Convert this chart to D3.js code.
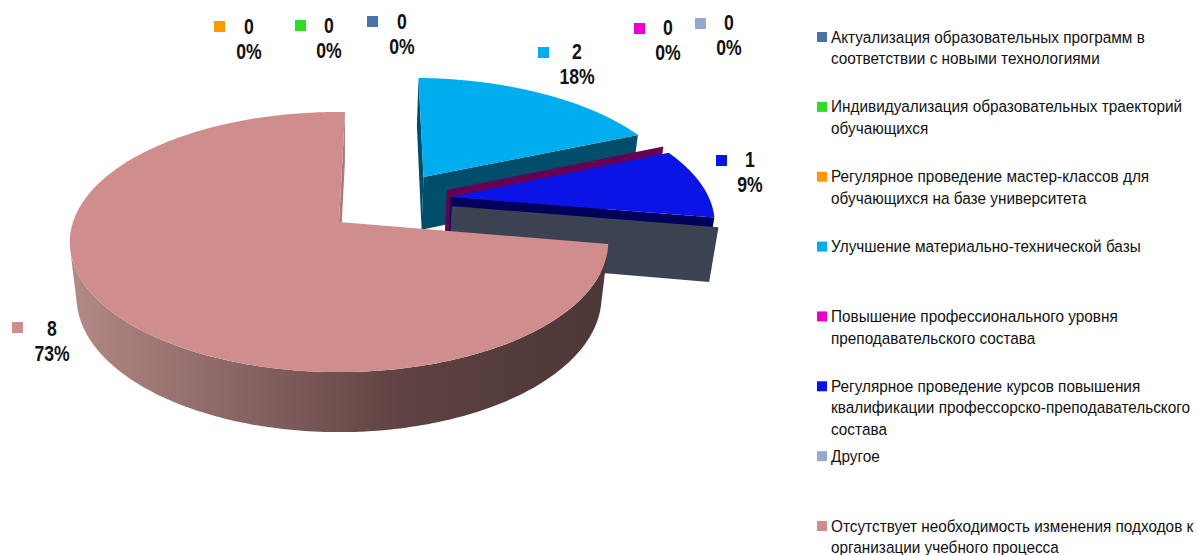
<!DOCTYPE html>
<html><head><meta charset="utf-8">
<script src="https://cdn.jsdelivr.net/npm/d3@7/dist/d3.min.js"></script>
<style>
html,body{margin:0;padding:0;background:#fff;overflow:hidden}
svg{display:block}
.leg{font-family:"Liberation Sans",sans-serif;font-size:16.5px;fill:#111}
.lab{font-family:"Liberation Sans",sans-serif;font-size:22px;font-weight:bold;fill:#111;text-anchor:middle;dominant-baseline:central}
</style></head><body>
<script>
// ---- data ----
const categories = [
 "Актуализация образовательных программ в соответствии с новыми технологиями",
 "Индивидуализация образовательных траекторий обучающихся",
 "Регулярное проведение мастер-классов для обучающихся на базе университета",
 "Улучшение материально-технической базы",
 "Повышение профессионального уровня преподавательского состава",
 "Регулярное проведение курсов повышения квалификации профессорско-преподавательского состава",
 "Другое",
 "Отсутствует необходимость изменения подходов к организации учебного процесса"
];
const values = [0,0,0,2,0,1,0,8];
const legendLines = [
 ["Актуализация образовательных программ в","соответствии с новыми технологиями"],
 ["Индивидуализация образовательных траекторий","обучающихся"],
 ["Регулярное проведение мастер-классов для","обучающихся на базе университета"],
 ["Улучшение материально-технической базы"],
 ["Повышение профессионального уровня","преподавательского состава"],
 ["Регулярное проведение курсов повышения","квалификации профессорско-преподавательского","состава"],
 ["Другое"],
 ["Отсутствует необходимость изменения подходов к","организации учебного процесса"]
];
// ---- styles ----
const colors = ["#4a72a8","#2fdc1e","#ff9900","#00aeef","#ee00cc","#0a14e6","#94a8d0","#cf8e8d"];
const faceColors = [null,null,null,"#004e6b","#660055","#00005c","#3b4252","#ab7a78"];
// ---- layout ----
const sliceShift = [null,null,null,[.336,.375],[.422,.262],[.433,.203],[.432,.128],[0,0]];
const labelSwatch = [[367,16],[295,20],[214,21],[538,47],[634,23],[716,155],[695,18],[12,322]];
const labelText = [[402,21],[329,25],[249,26],[577,51],[668,27],[750,159],[729,22],[52,328]];

const W=1197,H=555;
const svg=d3.select("body").append("svg").attr("width",W).attr("height",H);

// perspective projection of the pie's plane
const P={x0:339,y0:222,A:266,B:127,k:.154,m:.025,D:56};
function proj(X,Y,z){
  const w=1+P.k*Y+P.m*(z?1:0);
  return [P.x0+P.A*X/w, P.y0-(P.B*Y-(z?P.D:0))/w];
}
const startDeg=1.5;
const pie=d3.pie().sort(null).value(d=>d).startAngle(startDeg*Math.PI/180).endAngle((startDeg+360)*Math.PI/180);
const arcs=pie(values);
const line=d3.line();

const defs=svg.append("defs");
const grad=defs.append("linearGradient").attr("id","rimPink").attr("gradientUnits","userSpaceOnUse")
  .attr("x1",75).attr("x2",600).attr("y1",0).attr("y2",0);
[[0,"#b38886"],[.62,"#5f4242"],[1,"#4d3737"]].forEach(s=>grad.append("stop").attr("offset",s[0]).attr("stop-color",s[1]));

const gPie=svg.append("g");
arcs.forEach((a,i)=>{
  const sh=sliceShift[i]; if(!sh) return;
  const pt=(t,r,z)=>proj(sh[0]+r*Math.sin(t),sh[1]+r*Math.cos(t),z);
  const face=t=>[pt(t,0,0),pt(t,1,0),pt(t,1,1),pt(t,0,1)];
  const span=a.endAngle-a.startAngle;
  // radial faces with back-face culling
  const f2=face(a.endAngle);
  const f1=face(a.startAngle).reverse();
  [f1,f2].forEach(f=>{
    if(d3.polygonArea(f)<0) gPie.append("path").attr("d",line(f)+"Z").attr("fill",faceColors[i]);
  });
  if(span<=0) return;
  const ts=d3.range(0,241).map(j=>a.startAngle+span*j/240);
  // outer wall: only the part that faces the viewer
  const vis=[];
  for(let j=0;j<ts.length-1;j++){
    const q=[pt(ts[j],1,0),pt(ts[j+1],1,0),pt(ts[j+1],1,1),pt(ts[j],1,1)];
    if(d3.polygonArea(q)>0) vis.push(ts[j],ts[j+1]);
  }
  if(vis.length){
    const poly=vis.map(t=>pt(t,1,0)).concat(vis.slice().reverse().map(t=>pt(t,1,1)));
    gPie.append("path").attr("d",line(poly)+"Z").attr("fill","url(#rimPink)");
  }
  const top=[pt(0,0,0)].concat(ts.map(t=>pt(t,1,0)));
  gPie.append("path").attr("d",line(top)+"Z").attr("fill",colors[i]);
});

// data labels
const total=d3.sum(values);
const gLab=svg.append("g");
const labelText1=(x,y,s)=>gLab.append("text").attr("class","lab").attr("transform",`translate(${x},${y}) scale(.8,1)`).text(s);
values.forEach((v,i)=>{
  gLab.append("rect").attr("x",labelSwatch[i][0]).attr("y",labelSwatch[i][1]).attr("width",11).attr("height",11).attr("fill",colors[i]);
  labelText1(labelText[i][0],labelText[i][1],v);
  labelText1(labelText[i][0],labelText[i][1]+25,d3.format(".0%")(v/total));
});

// legend
const yLeg=d3.scaleLinear().domain([0,7]).range([37,526]);
const gLeg=svg.append("g");
legendLines.forEach((ls,i)=>{
  gLeg.append("rect").attr("x",817).attr("y",yLeg(i)-5).attr("width",10).attr("height",10).attr("fill",colors[i]);
  ls.forEach((s,j)=>gLeg.append("text").attr("class","leg").attr("transform",`translate(831,${yLeg(i)+5.5+j*21.6}) scale(.93,1)`).text(s));
});
</script>
</body></html>
